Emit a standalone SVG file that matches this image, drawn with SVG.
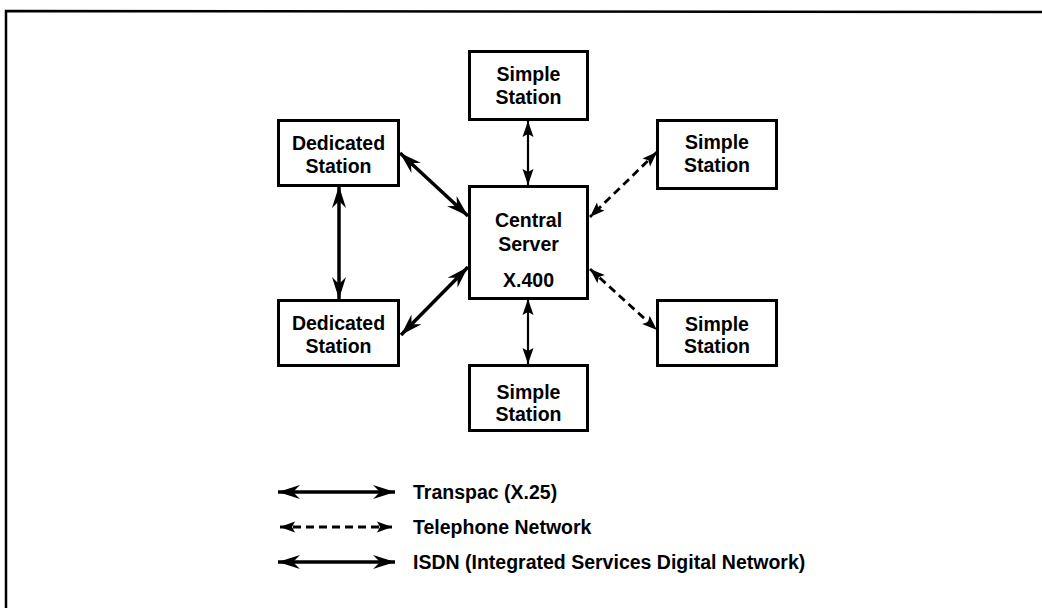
<svg xmlns="http://www.w3.org/2000/svg" width="1042" height="608" viewBox="0 0 1042 608">
<style>
.box{fill:#fff;stroke:#000;stroke-width:3}
.t{font-family:"Liberation Sans",Arial,sans-serif;font-weight:bold;font-size:19.5px;fill:#000;text-anchor:middle}
.lt{font-family:"Liberation Sans",Arial,sans-serif;font-weight:bold;font-size:19.5px;fill:#000}
.thin{stroke:#000;stroke-width:2.2;fill:none;marker-start:url(#ah);marker-end:url(#ah)}
.heavy{stroke:#000;stroke-width:3.5;fill:none;marker-start:url(#hh);marker-end:url(#hh)}
.dash{stroke:#000;stroke-width:2.8;fill:none;stroke-dasharray:8 5;marker-start:url(#dh);marker-end:url(#dh)}
</style>
<defs>
<marker id="ah" markerUnits="userSpaceOnUse" markerWidth="16" markerHeight="11" refX="16" refY="5.5" orient="auto-start-reverse" overflow="visible">
<path d="M0,0 L16,5.5 L0,11 L3,5.5 z" fill="#000"/>
</marker>
<marker id="hh" markerUnits="userSpaceOnUse" markerWidth="22" markerHeight="14" refX="22" refY="7" orient="auto-start-reverse" overflow="visible">
<path d="M0,0 L22,7 L0,14 L7,7 z" fill="#000"/>
</marker>
<marker id="dh" markerUnits="userSpaceOnUse" markerWidth="15" markerHeight="11" refX="15" refY="5.5" orient="auto-start-reverse" overflow="visible">
<path d="M0,0 L15,5.5 L0,11 L3,5.5 z" fill="#000"/>
</marker>
</defs>
<rect width="1042" height="608" fill="#fff"/>
<path d="M6,612 L6,11 L1046,12" fill="none" stroke="#000" stroke-width="2.5"/>

<g id="connectors">
<line class="thin" x1="528" y1="121" x2="528" y2="185"/>
<line class="thin" x1="528" y1="299" x2="528" y2="364"/>
<line class="heavy" x1="339" y1="186" x2="339" y2="299"/>
<line class="heavy" x1="400" y1="153" x2="468" y2="216"/>
<line class="heavy" x1="401" y1="335" x2="468" y2="267"/>
<line class="dash" x1="657" y1="152" x2="590" y2="217"/>
<line class="dash" x1="590" y1="269" x2="657" y2="330"/>
</g>

<g id="simple-top">
<rect class="box" x="469.5" y="51.5" width="118" height="68"/>
<text class="t" x="528.5" y="81">Simple</text>
<text class="t" x="528.5" y="104">Station</text>
</g>
<g id="dedicated-top">
<rect class="box" x="278.5" y="120.5" width="120" height="65"/>
<text class="t" x="338.5" y="150">Dedicated</text>
<text class="t" x="338.5" y="173">Station</text>
</g>
<g id="central-server">
<rect class="box" x="469.5" y="186.5" width="118" height="112"/>
<text class="t" x="528.5" y="227">Central</text>
<text class="t" x="528.5" y="251">Server</text>
<text class="t" x="528.5" y="287">X.400</text>
</g>
<g id="dedicated-bottom">
<rect class="box" x="278.5" y="300.5" width="120" height="65"/>
<text class="t" x="338.5" y="330">Dedicated</text>
<text class="t" x="338.5" y="353">Station</text>
</g>
<g id="simple-bottom">
<rect class="box" x="469.5" y="365.5" width="118" height="65"/>
<text class="t" x="528.5" y="399">Simple</text>
<text class="t" x="528.5" y="421">Station</text>
</g>
<g id="simple-right-top">
<rect class="box" x="657.5" y="120.5" width="119" height="68"/>
<text class="t" x="717" y="149">Simple</text>
<text class="t" x="717" y="172">Station</text>
</g>
<g id="simple-right-bottom">
<rect class="box" x="657.5" y="300.5" width="119" height="65"/>
<text class="t" x="717" y="331">Simple</text>
<text class="t" x="717" y="353">Station</text>
</g>

<g id="legend">
<line class="heavy" x1="278" y1="492" x2="395" y2="492"/>
<text class="lt" x="413" y="499">Transpac (X.25)</text>
<line class="dash" x1="280" y1="527" x2="392" y2="527"/>
<text class="lt" x="413" y="534">Telephone Network</text>
<line class="heavy" x1="278" y1="562" x2="395" y2="562"/>
<text class="lt" x="413" y="569">ISDN (Integrated Services Digital Network)</text>
</g>
</svg>
